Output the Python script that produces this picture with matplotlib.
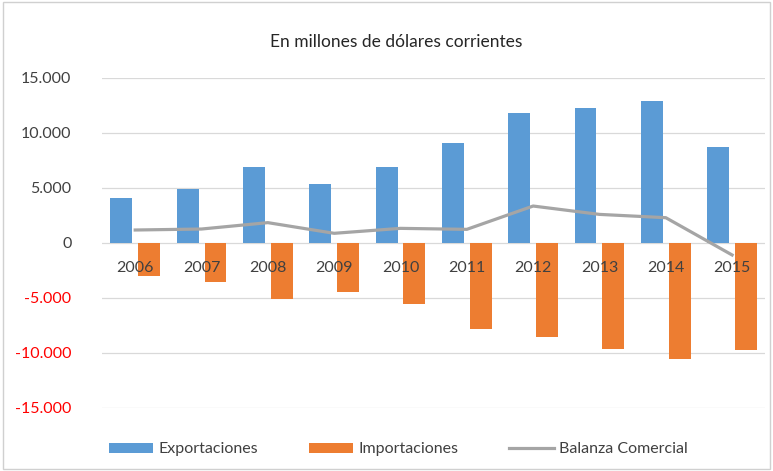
import numpy as np
import matplotlib.pyplot as plt
from matplotlib.patches import Rectangle

plt.rcParams['font.family'] = ['Lato', 'DejaVu Sans']

# datos (millones de USD)
years = ['2006', '2007', '2008', '2009', '2010', '2011', '2012', '2013', '2014', '2015']
exportaciones = [4120, 4880, 6940, 5400, 6940, 9120, 11790, 12240, 12910, 8730]
importaciones = [-2970, -3550, -5090, -4480, -5580, -7820, -8520, -9610, -10570, -9730]
balanza = [1180, 1270, 1850, 880, 1330, 1240, 3360, 2600, 2300, -1090]
yticks = [-15000, -10000, -5000, 0, 5000, 10000, 15000]

c_exp = '#5B9BD5'
c_imp = '#ED7D31'
c_bal = '#A5A5A5'

fig = plt.figure(figsize=(7.73, 4.71), dpi=100)
ax = fig.add_axes([0.132, 0.1338, 0.858, 0.7006])

x = np.arange(len(years))
w = 0.33
b1 = ax.bar(x - 0.21, exportaciones, width=w, color=c_exp, zorder=2, label='Exportaciones')
b2 = ax.bar(x + 0.21, importaciones, width=w, color=c_imp, zorder=2, label='Importaciones')
l1, = ax.plot(x, balanza, color=c_bal, lw=2.3, zorder=3, label='Balanza Comercial')

ax.set_xlim(-0.5, len(years) - 0.5)
ax.set_ylim(-15000, 15000)
ax.set_yticks(yticks)
ax.set_yticklabels([f'{v:,}'.replace(',', '.') for v in yticks])
for lab, v in zip(ax.get_yticklabels(), yticks):
    lab.set_color('#FF0000' if v < 0 else '#404040')
    lab.set_fontsize(11.5)
ax.tick_params(axis='y', length=0, pad=22)
ax.set_xticks([])
ax.grid(axis='y', color='#D9D9D9', lw=0.9, zorder=0)
ax.set_axisbelow(True)
for s in ax.spines.values():
    s.set_visible(False)

# etiquetas de año sobre las barras
for xi, yr in zip(x, years):
    ax.text(xi, -2300, yr, ha='center', va='center', fontsize=11.5,
            color='#404040', zorder=5)

fig.text(0.512, 0.91, 'En millones de dólares corrientes', ha='center', va='center',
         fontsize=12.5, color='#262626')

fig.legend([b1, b2, l1], ['Exportaciones', 'Importaciones', 'Balanza Comercial'],
           loc='center', bbox_to_anchor=(0.515, 0.046), ncol=3, frameon=False,
           fontsize=11.5, handlelength=2.8, handleheight=0.6, columnspacing=3.2,
           handletextpad=0.3, labelcolor='#404040')

fig.patches.append(Rectangle((0.004, 0.004), 0.992, 0.992, transform=fig.transFigure,
                             fill=False, edgecolor='#D0D0D0', lw=1))

fig.savefig('out.png', dpi=100)
